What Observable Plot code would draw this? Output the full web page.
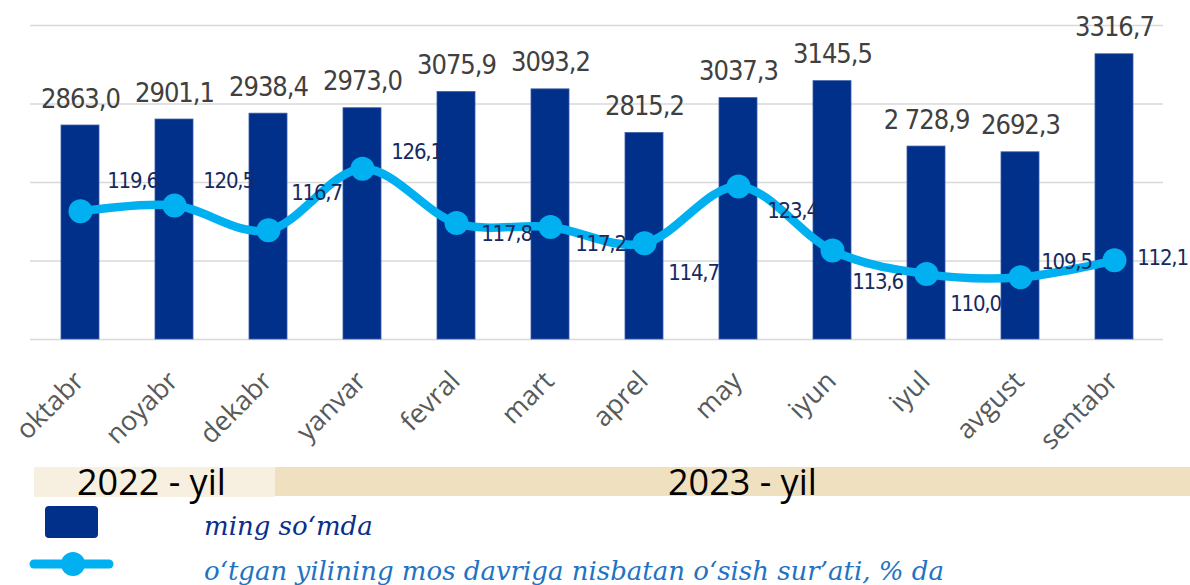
<!DOCTYPE html>
<html><head><meta charset="utf-8">
<script src="https://cdn.jsdelivr.net/npm/d3@7"></script>
<script src="https://cdn.jsdelivr.net/npm/@observablehq/plot@0.6"></script>
<style>
body{margin:0;background:#fff;}
#wrap{position:relative;width:1190px;height:585px;overflow:hidden;background:#fff;}
#wrap > svg{position:absolute;left:0;top:0;}
svg.p1 g.barlabels text{letter-spacing:-1px;}
svg.p2 g.ratelabels text{letter-spacing:-1.2px;}
</style></head><body>
<div id="wrap"></div>
<script>
// ---- data ----
const months = ["oktabr","noyabr","dekabr","yanvar","fevral","mart","aprel","may","iyun","iyul","avgust","sentabr"];
const wages = [2863.0, 2901.1, 2938.4, 2973.0, 3075.9, 3093.2, 2815.2, 3037.3, 3145.5, 2728.9, 2692.3, 3316.7];
const wageLabels = ["2863,0","2901,1","2938,4","2973,0","3075,9","3093,2","2815,2","3037,3","3145,5","2 728,9","2692,3","3316,7"];
const growth = [119.6, 120.5, 116.7, 126.1, 117.8, 117.2, 114.7, 123.4, 113.6, 110.0, 109.5, 112.1];
const growthLabels = ["119,6","120,5","116,7","126,1","117,8","117,2","114,7","123,4","113,6","110,0","109,5","112,1"];
const wageTicks = [1500, 2000, 2500, 3000, 3500];
const growthDomain = [100, 148];
const yearLabels = ["2022 - yil", "2023 - yil"];
const legendLabels = ["ming so‘mda", "o‘tgan yilining mos davriga nisbatan o‘sish sur’ati, % da"];

// label placement (pixel offsets of each growth label from its point)
const growthLabelOffset = [[52,-30],[54,-24],[48,-37],[54,-17],[50,11],[50,17],[49,30],[54,25],[45,31],[49,30],[46,-15],[48,-2]];

const barRows = months.map((m, i) => ({month: m, wage: wages[i], label: wageLabels[i]}));
const lineRows = months.map((m, i) => ({month: m, rate: growth[i], label: growthLabels[i]}));

const W = 1190, H = 465, BASE = 339;
const BAR = "#00308A", LINE = "#00B0F0";
const common = {
  width: W, height: H,
  marginLeft: 30, marginRight: 27, marginTop: 25, marginBottom: H - BASE,
  x: {domain: months, paddingInner: 0.6, paddingOuter: 0.3, axis: null},
  style: {background: "transparent", overflow: "visible"}
};

const p1 = Plot.plot({
  ...common,
  y: {domain: [wageTicks[0], wageTicks[wageTicks.length - 1]], axis: null},
  marks: [
    Plot.ruleY(wageTicks, {stroke: "#D9D9D9", strokeWidth: 1.5}),
    Plot.barY(barRows, {x: "month", y1: wageTicks[0], y2: "wage", fill: BAR, stroke: "#3D5CA6", strokeWidth: 0.8}),
    Plot.text(barRows, {x: "month", y: "wage", text: "label", lineAnchor: "bottom", dy: -18,
      fontSize: 27, fill: "#404040", fontFamily: "DejaVu Sans Condensed, DejaVu Sans, sans-serif"}),
    Plot.text(months, {x: d => d, frameAnchor: "bottom", rotate: -45, textAnchor: "end", lineAnchor: "middle",
      dy: 37, dx: -1, fontSize: 27, fill: "#595959", fontFamily: "Open Sans, sans-serif"})
  ]
});
p1.classList.add("p1");
// tag the bar-label group for letter-spacing
p1.querySelectorAll("g[aria-label='text']")[0].classList.add("barlabels");

const p2 = Plot.plot({
  ...common,
  y: {domain: growthDomain, axis: null},
  marks: [
    Plot.line(lineRows, {x: "month", y: "rate", curve: "cardinal", stroke: LINE, strokeWidth: 8.5, strokeLinejoin: "round"}),
    Plot.dot(lineRows, {x: "month", y: "rate", r: 12, fill: LINE}),
    ...lineRows.map((d, i) => Plot.text([d], {x: "month", y: "rate", text: "label",
      dx: growthLabelOffset[i][0], dy: growthLabelOffset[i][1], lineAnchor: "middle",
      fontSize: 22, fill: "#17295E", fontFamily: "DejaVu Sans Condensed, DejaVu Sans, sans-serif"}))
  ]
});
p2.classList.add("p2");
p2.querySelectorAll("g[aria-label='text']").forEach(g => g.classList.add("ratelabels"));

const wrap = document.getElementById("wrap");
wrap.appendChild(p1);
wrap.appendChild(p2);

// ---- year band and legend (below the chart) ----
const ns = "http://www.w3.org/2000/svg";
const deco = document.createElementNS(ns, "svg");
deco.setAttribute("width", W); deco.setAttribute("height", 585);
function el(tag, attrs, text) {
  const e = document.createElementNS(ns, tag);
  for (const k in attrs) e.setAttribute(k, attrs[k]);
  if (text != null) e.textContent = text;
  deco.appendChild(e);
  return e;
}
el("rect", {x: 34, y: 467, width: 241, height: 30, fill: "#F7EFDF"});
el("rect", {x: 275, y: 467, width: 915, height: 29, fill: "#EFE0BF"});
el("text", {x: 77, y: 495, "font-family": "Open Sans, sans-serif", "font-size": 36, fill: "#000"}, yearLabels[0]);
el("text", {x: 668, y: 495, "font-family": "Open Sans, sans-serif", "font-size": 36, fill: "#000"}, yearLabels[1]);
el("rect", {x: 45, y: 506, width: 53, height: 32, rx: 4, fill: BAR});
el("line", {x1: 34, x2: 109, y1: 564, y2: 564, stroke: LINE, "stroke-width": 9, "stroke-linecap": "round"});
el("circle", {cx: 73, cy: 564, r: 12, fill: LINE});
el("text", {x: 204, y: 535, "font-family": "DejaVu Serif, serif", "font-style": "italic", "font-size": 26, fill: "#0A2E8A"}, legendLabels[0]);
el("text", {x: 204, y: 580, "font-family": "DejaVu Serif, serif", "font-style": "italic", "font-size": 26, fill: "#1F73C4"}, legendLabels[1]);
wrap.appendChild(deco);
</script>
</body></html>
